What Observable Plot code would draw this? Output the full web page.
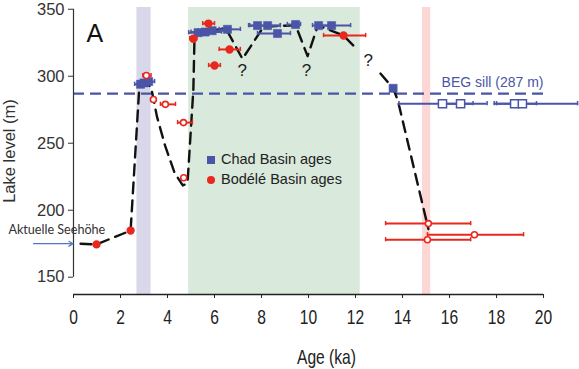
<!DOCTYPE html>
<html><head><meta charset="utf-8">
<script src="https://cdn.jsdelivr.net/npm/d3@7"></script>
<script src="https://cdn.jsdelivr.net/npm/@observablehq/plot@0.6"></script>
<style>
body{margin:0;background:#fff;}
#wrap{position:relative;width:579px;height:369px;font-family:"Liberation Sans",Arial,sans-serif;}
.leg{position:absolute;left:207px;font-size:14.5px;color:#222;line-height:18px;white-space:nowrap;}
.sw{display:inline-block;width:8px;height:8px;margin-right:6px;vertical-align:-0px;}
</style></head><body><div id="wrap"></div>
<script>
// ---- data ----
const xTicks = [0,2,4,6,8,10,12,14,16,18,20];
const yTicks = [150,200,250,300,350];
const shadeStart = [2.7, 4.9, 14.85];
const shadeEnd   = [3.3, 12.2, 15.2];
const shadeColor = ["#d9d7ea", "#d9e9db", "#fdd6d6"];
const sillLevel = 287;
const sillLabel = "BEG sill (287 m)";
const currentLevel = 175;
const currentLabel = "Aktuelle Seehöhe";

// reconstructed lake-level curve (dashed), segment ids
const curveAge   = [0.3,0.98,2.43,2.8,3.05,3.3,3.55,3.9,4.3,4.65,4.85,5.1,5.15,5.6,6.47,7.19,8.09,9.45,9.96,10.4,11.49,11.9, 13.06,13.6,13.8,15.1];
const curveLevel = [175,174.5,184.8,292,295,292,270,248,228,218.5,220,290,330,333,336,313,337,338,315,338,330.4,323, 302,291,282,186];
const curveSeg   = [0,0,0,0,0,0,0,0,0,0,0,0,0,0,0,0,0,0,0,0,0,0, 1,1,1,1];
const qAge   = [7.18, 9.91, 12.54];
const qLevel = [304, 304, 312];

// Chad Basin ages (blue squares): age, level, error low, error high, open?
const chadAge   = [2.85,3.0,3.2, 5.3,5.6,5.9,6.55, 7.83,8.26,8.68,9.45,10.43,10.98, 13.6, 15.7,16.47,18.77,19.1];
const chadLevel = [294,295,296, 332.5,333,334,335, 337.8,337.8,331.9,338.6,337.8,337.8, 291, 279.5,279.5,279.5,279.5];
const chadLo    = [2.6,2.75,3.0, 4.9,5.0,5.3,6.2, 7.45,7.5,7.83,9.1,10.17,10.4, 13.6, 13.85,15.6,17.9,18.0];
const chadHi    = [3.1,3.3,3.45, 5.9,6.3,6.6,7.1, 8.8,8.8,9.23,9.66,11.0,11.79, 13.6, 17.0,17.6,19.7,21.45];
const chadOpen  = [0,0,0, 0,0,0,0, 0,0,0,0,0,0, 0, 1,1,1,1];

// Bodélé Basin ages (red circles)
const bodAge   = [0.98,2.43, 3.1,3.4,3.91,4.68,4.69, 5.1,5.74,6.0,6.64,11.49, 15.1,15.06,17.06];
const bodLevel = [174.5,184.8, 300.5,282.6,279,265.4,224.2, 328,339.3,308,320,330.4, 190,178,181.7];
const bodLo    = [0.98,2.43, 2.95,3.3,3.7,4.43,4.69, 4.95,5.5,5.75,6.2,10.64, 13.28,13.28,15.06];
const bodHi    = [0.98,2.43, 3.3,3.5,4.34,5.06,4.69, 5.25,6.0,6.25,7.1,12.43, 16.9,16.9,19.15];
const bodOpen  = [0,0, 1,1,1,1,1, 0,0,0,0,0, 1,1,1];

// ---- build tables ----
const BLUE = "#4a55a7", RED = "#e8281e";
const shades = shadeStart.map((s,i)=>({x1:s, x2:shadeEnd[i], fill:shadeColor[i]}));
const curve = curveAge.map((a,i)=>({age:a, level:curveLevel[i], seg:curveSeg[i]}));
const qs = qAge.map((a,i)=>({age:a, level:qLevel[i]}));
const chad = chadAge.map((a,i)=>({age:a, level:chadLevel[i], lo:chadLo[i], hi:chadHi[i], open:chadOpen[i]}));
const bod = bodAge.map((a,i)=>({age:a, level:bodLevel[i], lo:bodLo[i], hi:bodHi[i], open:bodOpen[i]}));
const chadBars = chad.filter(d=>d.hi>d.lo), bodBars = bod.filter(d=>d.hi>d.lo);
const caps = (arr)=>arr.flatMap(d=>[{age:d.lo, level:d.level},{age:d.hi, level:d.level}]);
const yMin = 137.1, yMax = 351.3;

const chart = Plot.plot({
  width: 579, height: 369,
  marginLeft: 73, marginRight: 0, marginTop: 7, marginBottom: 75,
  x: {domain: [0, 21.53]},
  y: {domain: [yMin, yMax]},
  style: {fontFamily: "'Liberation Sans',Arial,sans-serif", color: "#222", background: "transparent"},
  marks: [
    Plot.rect(shades, {x1:"x1", x2:"x2", fill:"fill"}),
    Plot.ruleY([sillLevel], {x1: xTicks[0], x2: xTicks[xTicks.length-1], stroke: BLUE, strokeWidth: 2.2, strokeDasharray: "11,6"}),
    Plot.text([sillLabel], {x: xTicks[xTicks.length-1], y: sillLevel, textAnchor:"end", dy:-11, fill: BLUE, fontSize: 14}),
    // axes
    Plot.ruleX([0], {y1: yTicks[0], y2: yTicks[yTicks.length-1], stroke:"#333", strokeWidth:1.2}),
    Plot.ruleY([yMin], {x1: xTicks[0], x2: xTicks[xTicks.length-1], stroke:"#222", strokeWidth:1.4}),
    Plot.axisY({ticks: yTicks, tickSize: 5, tickPadding: 4, fontSize: 16.5, color:"#333", label: "Lake level (m)", labelAnchor:"center", labelArrow:"none", labelOffset: 70}),
    Plot.axisX({ticks: xTicks, tickSize: 4, tickPadding: 11, fontSize: 20, color:"#222", label: "Age (ka)", labelAnchor:"center", labelArrow:"none", labelOffset: 69}),
    // curve
    Plot.line(curve, {x:"age", y:"level", z:"seg", stroke:"#111", strokeWidth: 2.4, strokeDasharray:"11,7"}),
    Plot.text(qs, {x:"age", y:"level", text: ()=>"?", fontSize: 17, fill:"#222"}),
    // current level annotation
    Plot.arrow([currentLevel], {x1: -1.7, x2: -0.02, y1: d=>d, y2: d=>d, stroke:"#4f7ac0", strokeWidth: 1.2, headLength: 6}),
    Plot.text([currentLabel], {x: -2.77, y: currentLevel, dy: -14, textAnchor:"start", fontSize: 12.6, fontFamily:"Lato,'Open Sans',sans-serif", fill:"#333"}),
    // error bars
    Plot.ruleY(chadBars, {x1:"lo", x2:"hi", y:"level", stroke: BLUE, strokeWidth: 2}),
    Plot.ruleX(caps(chadBars), {x:"age", y1: d=>d.level-1.6, y2: d=>d.level+1.6, stroke: BLUE, strokeWidth: 1.5}),
    Plot.ruleY(bodBars, {x1:"lo", x2:"hi", y:"level", stroke: RED, strokeWidth: 2}),
    Plot.ruleX(caps(bodBars), {x:"age", y1: d=>d.level-1.6, y2: d=>d.level+1.6, stroke: RED, strokeWidth: 1.5}),
    // points
    Plot.dot(chad, {x:"age", y:"level", symbol:"square", r: 4.6, fill: d=>d.open? "#fff" : BLUE, stroke: BLUE, strokeWidth: d=>d.open?1.5:0.5}),
    Plot.dot(bod, {x:"age", y:"level", symbol:"circle", r: d=>d.open?3.6:4.6, fill: d=>d.open? "#fff" : RED, stroke: RED, strokeWidth: 1.6}),
    Plot.text(["A"], {frameAnchor:"top-left", dx: 13, dy: 17, fontSize: 25, fill:"#111"})
  ]
});
// condensed look for x-axis texts: append a horizontal squeeze to each text's own transform
d3.select(chart).selectAll('g[aria-label="x-axis tick label"] text, g[aria-label="x-axis label"] text').each(function(){
  const t = this.getAttribute("transform") || "";
  this.setAttribute("transform", (t + " scale(0.78,1)").trim());
});
const wrap = document.getElementById("wrap");
wrap.appendChild(chart);
const legendItems = [["Chad Basin ages", BLUE, "0"], ["Bodélé Basin ages", RED, "50%"]];
legendItems.forEach(([label,color,rad],i)=>{
  const div = document.createElement("div");
  div.className = "leg";
  div.style.top = (150 + i*20) + "px";
  div.innerHTML = `<span class="sw" style="background:${color};border-radius:${rad}"></span>${label}`;
  wrap.appendChild(div);
});
</script></body></html>
